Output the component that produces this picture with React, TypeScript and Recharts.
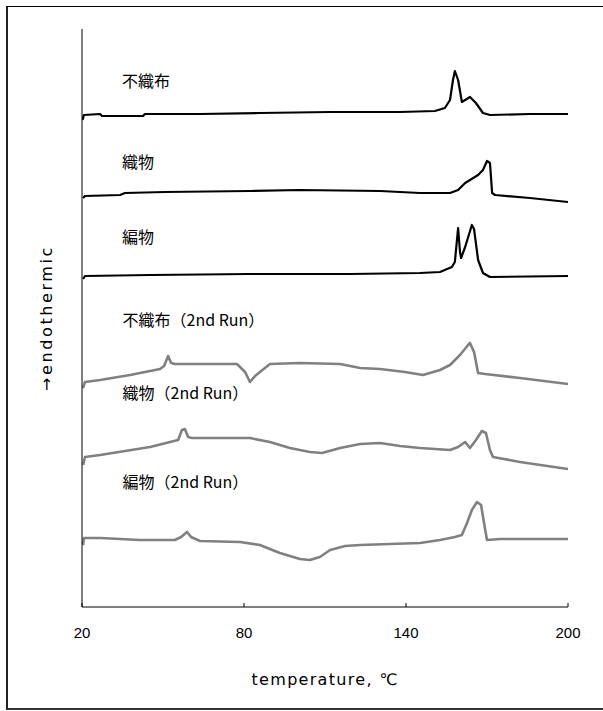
import React from 'react';
import { LineChart, Line, XAxis, YAxis, ReferenceDot, Customized, Text } from 'recharts';

// temperature (°C) and heat-flow (arbitrary, offset) values
const nonwovenT = [20.2, 20.7, 26.7, 27.4, 42.6, 43.3, 63.7, 85.9, 111.9, 137.8, 150.7, 154.4, 156.3, 157.4, 158.1, 159.3, 160.7, 163.7, 165.9, 168.5, 171.1, 185.9, 200];
const nonwovenV = [487, 492, 493, 491, 491, 493, 493, 494, 495, 495, 496, 499, 507, 527, 536, 527, 505, 510, 504, 494, 492, 493, 493];

const wovenT = [20.4, 21.1, 34.1, 35.9, 50.7, 82.2, 100.7, 130.4, 145.2, 156.3, 159.3, 161.9, 166.7, 168.5, 170.0, 171.1, 171.9, 173.0, 185.9, 200];
const wovenV = [409, 411, 412, 414, 415, 416, 417, 416, 414, 414, 417, 424, 432, 437, 446, 444, 414, 412, 409, 405];

const knitT = [20.4, 21.1, 45.2, 82.2, 119.3, 145.2, 152.6, 157.0, 158.1, 159.3, 160.0, 160.4, 161.9, 164.4, 165.2, 166.7, 168.5, 171.1, 200];
const knitV = [328, 331, 332, 333, 333, 334, 335, 340, 345, 379, 355, 349, 360, 382, 378, 347, 334, 330, 331];

const nonwoven2T = [20.4, 21.1, 26.7, 37.8, 48.9, 50.4, 51.9, 53.0, 54.4, 63.7, 77.4, 80.4, 82.2, 84.1, 85.9, 89.6, 100.7, 115.6, 123.0, 130.4, 139.6, 146.3, 152.6, 156.3, 160.0, 163.0, 163.7, 165.2, 166.7, 169.3, 182.2, 200];
const nonwoven2V = [219, 225, 227, 232, 238, 241, 251, 244, 243, 243, 243, 235, 225, 231, 235, 243, 244, 243, 239, 238, 235, 232, 237, 242, 252, 262, 264, 255, 234, 233, 229, 223];

const woven2T = [20.4, 21.1, 26.7, 45.2, 55.6, 57.0, 58.1, 59.3, 60.7, 82.2, 89.6, 97.0, 104.4, 108.9, 115.6, 123.0, 130.4, 137.8, 145.2, 156.3, 159.3, 161.9, 163.7, 165.9, 168.1, 169.6, 171.1, 172.2, 182.2, 200];
const woven2V = [142, 150, 152, 160, 167, 177, 178, 170, 169, 169, 165, 159, 155, 154, 159, 163, 164, 161, 159, 157, 160, 165, 159, 167, 176, 174, 157, 150, 145, 138];

const knit2T = [20.4, 20.7, 26.7, 41.5, 54.4, 56.7, 58.9, 60.4, 63.7, 78.5, 85.9, 93.3, 100.7, 104.4, 108.1, 111.9, 117.4, 123.0, 145.2, 152.6, 158.1, 160.7, 162.6, 164.4, 166.3, 167.8, 168.9, 170.0, 174.8, 200];
const knit2V = [62, 69, 69, 67, 67, 70, 75, 70, 66, 65, 62, 54, 48, 47, 50, 57, 61, 62, 64, 67, 70, 72, 84, 97, 105, 102, 84, 67, 68, 68];

const seriesNames = ['不織布', '織物', '編物', '不織布（2nd Run）', '織物（2nd Run）', '編物（2nd Run）'];
const labelT = [34.8, 34.8, 34.8, 35.0, 35.0, 35.0];
const labelV = [526, 445, 370, 287, 214, 125];
const xTicks = [20, 80, 140, 200];

const zip = (t: number[], v: number[]) => t.map((x, i) => ({ t: x, v: v[i] }));

const series = [
  { data: zip(nonwovenT, nonwovenV), color: '#000000', w: 2.2 },
  { data: zip(wovenT, wovenV), color: '#000000', w: 2.2 },
  { data: zip(knitT, knitV), color: '#000000', w: 2.2 },
  { data: zip(nonwoven2T, nonwoven2V), color: '#808080', w: 2.6 },
  { data: zip(woven2T, woven2V), color: '#808080', w: 2.6 },
  { data: zip(knit2T, knit2V), color: '#808080', w: 2.6 },
];

const CJK = '"Noto Sans CJK JP", "Noto Sans", sans-serif';
const LATIN = '"DejaVu Sans", "Noto Sans CJK JP", sans-serif';

export default function App() {
  return (
    <div style={{ position: 'absolute', left: 0, top: 0, width: 603, height: 711, overflow: 'hidden', background: '#fff' }}>
      <div
        style={{
          position: 'absolute',
          left: 6,
          top: 6,
          width: 640,
          height: 701,
          borderLeft: '2px solid #222',
          borderTop: '1px solid #000',
          borderBottom: '2px solid #333',
        }}
      />
      <div style={{ position: 'absolute', left: 0, top: 0 }}>
        <LineChart width={603} height={711} margin={{ top: 29, right: 35, bottom: 0, left: 0 }} style={{ fontFamily: CJK }}>
          <XAxis
            dataKey="t"
            type="number"
            domain={[20, 200]}
            ticks={xTicks}
            allowDataOverflow
            height={104}
            stroke="#000"
            tickSize={-4}
            tickMargin={24}
            tick={{ fill: '#000', fontSize: 15, fontFamily: '"Liberation Sans", sans-serif' }}
            label={{ value: 'temperature, ℃', position: 'insideBottom', offset: 26, fill: '#000', fontSize: 16, fontFamily: LATIN, letterSpacing: 1.3 }}
          />
          <YAxis
            dataKey="v"
            type="number"
            domain={[0, 578]}
            width={82}
            tick={false}
            tickLine={false}
            stroke="#000"
            allowDataOverflow
          />
          {series.map((s, i) => (
            <Line
              key={i}
              data={s.data}
              dataKey="v"
              type="linear"
              stroke={s.color}
              strokeWidth={s.w}
              dot={false}
              isAnimationActive={false}
              strokeLinejoin="round"
            />
          ))}
          {seriesNames.map((n, i) => (
            <ReferenceDot
              key={n}
              x={labelT[i]}
              y={labelV[i]}
              r={0}
              fill="none"
              stroke="none"
              label={{ value: n, position: 'right', offset: 0, fill: '#000', fontSize: 16, fontFamily: CJK }}
            />
          ))}
          <Customized
            component={() => (
              <Text x={46} y={318} angle={-90} textAnchor="middle" verticalAnchor="middle" fontSize={16} fill="#000" fontFamily={LATIN} letterSpacing={2.6}>
                →endothermic
              </Text>
            )}
          />
        </LineChart>
      </div>
    </div>
  );
}
